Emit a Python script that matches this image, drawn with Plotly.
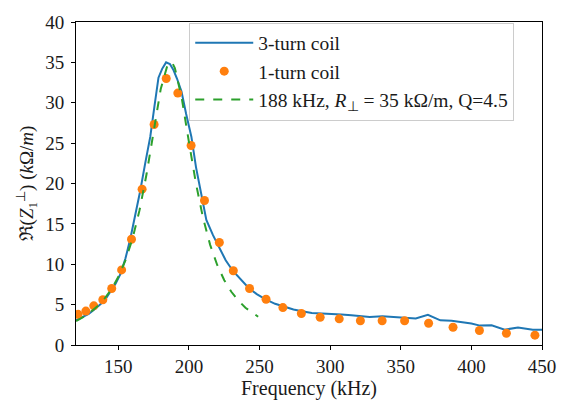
import plotly.graph_objects as go

# 3-turn coil (measured, solid blue)
f3 = [120, 125, 129, 133, 137.5, 141, 144.5, 148, 151.5, 155, 158.5, 162, 165.5, 169, 172.6,
      175.5, 178.4, 181, 183.8, 186.5, 188.9, 191.5, 194.7, 198, 201.7, 205, 208, 212.3, 217,
      221.6, 226, 231, 236, 242.6, 248, 254.3, 261, 268.3, 274, 281, 287, 294, 301, 308, 315,
      322, 328, 337, 344, 352, 360.6, 369.2, 378, 386, 394.5, 400, 406, 414.3, 423.6, 433,
      443.5, 450]
z3 = [3.05, 3.5, 3.85, 4.4, 5.06, 5.7, 6.6, 7.6, 8.8, 10.7, 13.2, 16.0, 19.1, 22.5, 25.8,
      29.5, 33.1, 34.2, 35.0, 34.8, 34.1, 33.0, 31.4, 28.6, 25.8, 22.0, 19.4, 15.5, 13.6,
      12.0, 10.5, 9.2, 8.2, 7.0, 6.3, 5.66, 5.1, 4.66, 4.4, 4.15, 3.95, 3.9, 3.87, 3.78, 3.68,
      3.6, 3.48, 3.56, 3.45, 3.35, 3.28, 3.75, 3.05, 3.0, 2.8, 2.65, 2.4, 2.45, 1.9, 2.17,
      1.9, 1.9]

# 1-turn coil (measured, orange dots)
f1 = [121.4, 127, 132.6, 139, 145.3, 152.3, 159.3, 166.8, 175.3, 183.9, 192.1, 201.5, 211,
      221.5, 231.4, 242.9, 254.6, 266.5, 279.6, 292.9, 306.4, 321.4, 336.8, 352.7, 369.7,
      387, 405.7, 424.8, 445]
z1 = [3.8, 4.2, 4.85, 5.6, 7.0, 9.3, 13.1, 19.3, 27.3, 33.0, 31.2, 24.7, 17.9, 12.7, 9.2,
      7.0, 5.66, 4.63, 3.9, 3.44, 3.24, 3.0, 3.0, 3.0, 2.7, 2.2, 1.8, 1.46, 1.22]

# Resonator fit (dashed green)
ffit = [120, 125, 130, 135, 140, 145, 150, 155, 160, 165, 170, 175, 180, 185, 188, 190, 195,
        200, 205, 210, 215, 220, 225, 230, 235, 240, 245, 249]
zfit = [2.97, 3.45, 4.04, 4.77, 5.70, 6.89, 8.44, 10.47, 13.16, 16.7, 21.2, 26.6, 31.7, 34.8,
        35.0, 34.3, 30.46, 25.1, 19.95, 15.7, 12.4, 9.91, 8.03, 6.59, 5.49, 4.62, 3.94, 3.5]

xticks = [150, 200, 250, 300, 350, 400, 450]
yticks = [0, 5, 10, 15, 20, 25, 30, 35, 40]

FONT = "Liberation Serif"
TXT = "#1a1a1a"

fig = go.Figure()
fig.add_trace(go.Scatter(x=f3, y=z3, mode="lines", name="3-turn coil",
                         line=dict(color="#1f77b4", width=2)))
fig.add_trace(go.Scatter(x=f1, y=z1, mode="markers", name="1-turn coil",
                         marker=dict(color="#ff7f0e", size=9)))
fig.add_trace(go.Scatter(x=ffit, y=zfit, mode="lines",
                         name="188 kHz, <i>R</i><sub>⊥</sub> = 35 kΩ/m, Q=4.5",
                         line=dict(color="#2ca02c", width=2, dash="dash")))

axis_common = dict(showgrid=False, zeroline=False, showline=True, linecolor="black",
                   linewidth=1, mirror=True, ticks="outside", ticklen=4, tickcolor="black",
                   tickfont=dict(family=FONT, size=19, color=TXT))

fig.update_layout(
    width=568, height=407,
    margin=dict(l=76, r=22, t=14, b=56),
    paper_bgcolor="white", plot_bgcolor="white",
    font=dict(family=FONT, size=19, color=TXT),
    xaxis=dict(range=[120, 450], tickvals=xticks,
               title=dict(text="Frequency (kHz)", font=dict(family=FONT, size=20, color=TXT),
                          standoff=4),
               **axis_common),
    yaxis=dict(range=[0, 40], tickvals=yticks, ticklabelstandoff=3,
               title=dict(text="ℜ(<i>Z</i><sub>1</sub><sup>⊥</sup>) (<i>k</i>Ω/<i>m</i>)",
                          font=dict(family=FONT, size=19, color=TXT), standoff=6),
               **axis_common),
    legend=dict(x=0.243, y=0.998, xanchor="left", yanchor="top",
                bgcolor="rgba(255,255,255,0.8)", bordercolor="#cccccc", borderwidth=1,
                font=dict(family=FONT, size=19.5, color=TXT), tracegroupgap=0,
                itemwidth=58),
    showlegend=True,
)

fig.write_html("out.html")
